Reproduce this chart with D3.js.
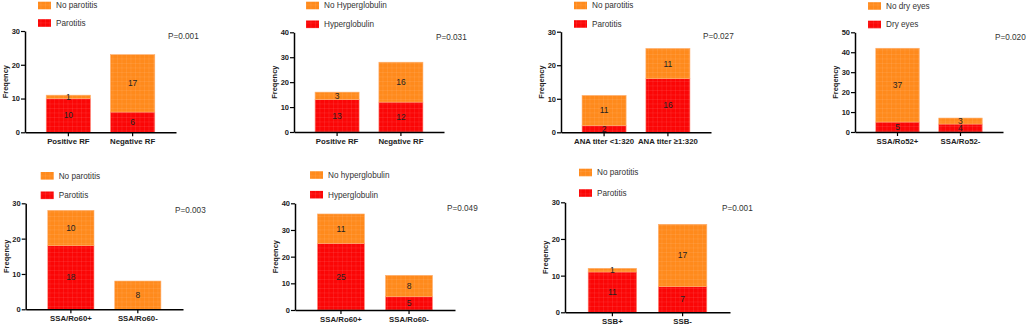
<!DOCTYPE html>
<html>
<head>
<meta charset="utf-8">
<script src="https://cdn.jsdelivr.net/npm/d3@7"></script>
<style>
  body { margin: 0; background: #fff; }
  svg { display: block; font-family: "Liberation Sans", Arial, sans-serif; }
</style>
</head>
<body>
<svg id="chart" width="1026" height="326"></svg>
<script>
// values
const categories = [
    ["Positive RF", "Negative RF"],
    ["Positive RF", "Negative RF"],
    ["ANA titer <1:320", "ANA titer \u22651:320"],
    ["SSA/Ro52+", "SSA/Ro52-"],
    ["SSA/Ro60+", "SSA/Ro60-"],
    ["SSA/Ro60+", "SSA/Ro60-"],
    ["SSB+", "SSB-"]
];
const redValues = [[10, 6], [13, 12], [2, 16], [5, 4], [18, 0], [25, 5], [11, 7]];
// segment heights as drawn (ANA panel bars reach 11 and 25)
const orangeValues = [[1, 17], [3, 16], [9, 9], [37, 3], [10, 8], [11, 8], [1, 17]];
// numbers printed on the orange segments
const orangeNumbers = [[1, 17], [3, 16], [11, 11], [37, 3], [10, 8], [11, 8], [1, 17]];
const orangeLabels = ["No parotitis", "No Hyperglobulin", "No parotitis", "No dry eyes", "No parotitis", "No hyperglobulin", "No parotitis"];
const redLabels = ["Parotitis", "Hyperglobulin", "Parotitis", "Dry eyes", "Parotitis", "Hyperglobulin", "Parotitis"];
const pValues = ["P=0.001", "P=0.031", "P=0.027", "P=0.020", "P=0.003", "P=0.049", "P=0.001"];
const yMaxes = [30, 40, 30, 50, 30, 40, 30];

// where each panel sits on the page
const layout = [
    { x0: 25, x1: 176, yTop: 31, yBot: 132.3, leg1: 5.5, leg2: 23, legX: 13, pY: 36 },
    { x0: 294, x1: 444, yTop: 32.3, yBot: 132, leg1: 5.5, leg2: 24.3, legX: 12, pY: 37 },
    { x0: 561, x1: 711, yTop: 31.7, yBot: 132.3, leg1: 5.5, leg2: 24, legX: 13, pY: 36 },
    { x0: 855, x1: 1003, yTop: 32.3, yBot: 132, leg1: 6, leg2: 24.5, legX: 13, pY: 37 },
    { x0: 25.7, x1: 183, yTop: 203.3, yBot: 309.3, leg1: 175.8, leg2: 195.3, legX: 15, pY: 210 },
    { x0: 295, x1: 455, yTop: 203.3, yBot: 310, leg1: 175, leg2: 194.7, legX: 15, pY: 208 },
    { x0: 565, x1: 730, yTop: 202.3, yBot: 312.3, leg1: 172.5, leg2: 193, legX: 14, pY: 208 }
];

const ORANGE = "#ff8a1c";
const RED = "#fb0606";

const svg = d3.select("#chart");
const defs = svg.append("defs");

function makePattern(id, color) {
    const p = defs.append("pattern")
        .attr("id", id)
        .attr("patternUnits", "userSpaceOnUse")
        .attr("width", 4.5).attr("height", 4.5);
    p.append("rect").attr("width", 4.5).attr("height", 4.5).attr("fill", color);
    p.append("path")
        .attr("d", "M0,0.25H4.5M0.25,0V4.5")
        .attr("stroke", "#fff").attr("stroke-opacity", 0.18).attr("stroke-width", 0.5);
}
makePattern("patOrange", ORANGE);
makePattern("patRed", RED);

categories.forEach((cats, i) => {
    const L = layout[i];
    const g = svg.append("g");

    const x = d3.scaleBand()
        .domain(cats)
        .range([L.x0, L.x1])
        .paddingInner(0.31)
        .paddingOuter(0.33);

    const y = d3.scaleLinear()
        .domain([0, yMaxes[i]])
        .range([L.yBot, L.yTop]);

    const stack = cats.map((c, j) => ({
        cat: c,
        red: redValues[i][j],
        orange: orangeValues[i][j],
        num: orangeNumbers[i][j]
    }));

    // red segments
    g.selectAll(".red")
        .data(stack.filter(d => d.red > 0))
        .join("rect")
        .attr("x", d => x(d.cat))
        .attr("width", x.bandwidth())
        .attr("y", d => y(d.red))
        .attr("height", d => y(0) - y(d.red))
        .attr("fill", "url(#patRed)")
        .attr("stroke", "#ff8c7c").attr("stroke-width", 0.6);

    // orange segments
    g.selectAll(".orange")
        .data(stack)
        .join("rect")
        .attr("x", d => x(d.cat))
        .attr("width", x.bandwidth())
        .attr("y", d => y(d.red + d.orange))
        .attr("height", d => y(d.red) - y(d.red + d.orange))
        .attr("fill", "url(#patOrange)")
        .attr("stroke", "#ffb070").attr("stroke-width", 0.6);

    // value labels
    stack.forEach(d => {
        if (d.red > 0) {
            g.append("text")
                .attr("x", x(d.cat) + x.bandwidth() / 2)
                .attr("y", y(d.red / 2))
                .attr("dy", "0.35em")
                .attr("text-anchor", "middle")
                .attr("font-size", 8.5)
                .attr("fill", "#222")
                .text(d.red);
        }
        g.append("text")
            .attr("x", x(d.cat) + x.bandwidth() / 2)
            .attr("y", y(d.red + d.orange / 2))
            .attr("dy", "0.35em")
            .attr("text-anchor", "middle")
            .attr("font-size", 8.5)
            .attr("fill", "#222")
            .text(d.num);
    });

    // y axis
    const yAxis = g.append("g")
        .attr("transform", `translate(${L.x0},0)`)
        .call(d3.axisLeft(y).ticks(yMaxes[i] / 10).tickSize(4).tickPadding(1).tickSizeOuter(0));
    yAxis.select(".domain").attr("stroke-width", 1.5);
    yAxis.selectAll(".tick line").attr("stroke-width", 1.2);
    yAxis.selectAll(".tick text").attr("font-size", 7.5).attr("font-weight", "bold").attr("fill", "#222");

    // x axis
    const xAxis = g.append("g")
        .attr("transform", `translate(0,${L.yBot})`)
        .call(d3.axisBottom(x).tickSize(4).tickPadding(2.5).tickSizeOuter(0));
    xAxis.select(".domain").attr("stroke-width", 1.5);
    xAxis.selectAll(".tick line").attr("stroke-width", 1.2);
    xAxis.selectAll(".tick text").attr("font-size", 7.8).attr("font-weight", "bold").attr("fill", "#222");

    // y label
    g.append("text")
        .attr("transform", `translate(${L.x0 - 17},${(L.yTop + L.yBot) / 2}) rotate(-90)`)
        .attr("text-anchor", "middle")
        .attr("font-size", 7.5)
        .attr("font-weight", "bold")
        .attr("fill", "#222")
        .text("Freqency");

    // legend
    const legend = [
        { label: orangeLabels[i], fill: "url(#patOrange)", yc: L.leg1 },
        { label: redLabels[i], fill: "url(#patRed)", yc: L.leg2 }
    ];
    legend.forEach(l => {
        g.append("rect")
            .attr("x", L.x0 + L.legX)
            .attr("y", l.yc - 3.8)
            .attr("width", 13).attr("height", 7.6)
            .attr("fill", l.fill);
        g.append("text")
            .attr("x", L.x0 + L.legX + 18)
            .attr("y", l.yc)
            .attr("dy", "0.35em")
            .attr("font-size", 8.2)
            .attr("fill", "#333")
            .text(l.label);
    });

    // p value
    g.append("text")
        .attr("x", L.x1 - 8)
        .attr("y", L.pY)
        .attr("dy", "0.35em")
        .attr("font-size", 8.2)
        .attr("fill", "#333")
        .text(pValues[i]);
});
</script>
</body>
</html>
